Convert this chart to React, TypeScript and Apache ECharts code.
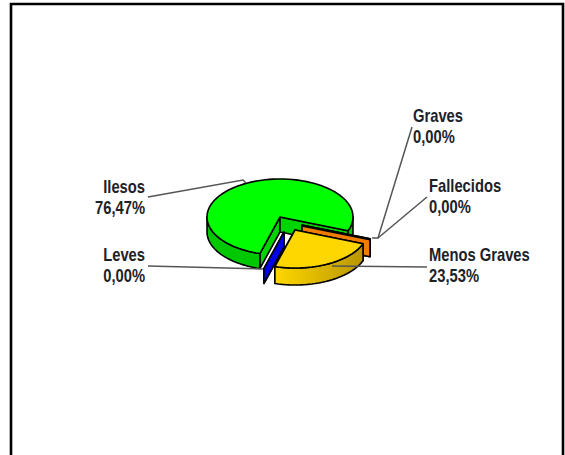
import React, { useEffect, useRef } from "react";
import * as echarts from "echarts";

const categories = ["Ilesos", "Graves", "Fallecidos", "Menos Graves", "Leves"];
const shares = [76.47, 0, 0, 23.53, 0];

const topColors = ["#00ff00", "#ff8c00", "#ff8c00", "#ffd700", "#0000e6"];
const sideColors = ["#00c800", "#e67300", "#e67300", "#c9a400", "#0000d0"];
const wallColors = ["#00d400", "#f07c00", "#f07c00", "#e0b800", "#0000e6"];
// Pie geometry, in pixels
const CX = 280, CY = 217, RX = 73, RY = 38;
const START_DEG = 106;
const depths = [15, 15, 17, 17, 15];
const explodeX = [0, 22, 22, 15, 4];
const explodeY = [0, 8, 9, 13, 15];
const labelAnchorX = [145, 413, 429, 429, 145];
const labelAnchorY = [186, 115, 185, 254, 254];
const labelAlign = ["right", "left", "left", "left", "right"];
const leaderPts = [
  [[148, 197], [243, 180], [246, 183]],
  [[412, 127], [378, 238], [372, 238]],
  [[427, 197], [378, 238]],
  [[427, 267], [332, 266]],
  [[148, 266], [263, 269]],
];

const pct = (v: number) => v.toFixed(2).replace(".", ",") + "%";
const rad = (d: number) => (d * Math.PI) / 180;

function arcPts(cx: number, cy: number, a: number, b: number) {
  const n = Math.max(1, Math.ceil(Math.abs(b - a) / 3));
  const pts: number[][] = [];
  for (let i = 0; i <= n; i++) {
    const t = rad(a + ((b - a) * i) / n);
    pts.push([cx + RX * Math.cos(t), cy + RY * Math.sin(t)]);
  }
  return pts;
}

function sweep(i: number) {
  let s = START_DEG;
  for (let k = 0; k < i; k++) s += (shares[k] / 100) * 360;
  return [s, s + (shares[i] / 100) * 360];
}

const line = { stroke: "#000", lineWidth: 1.6, lineJoin: "round" as const };

function renderSlice(params: any, api: any) {
  const i = params.dataIndex;
  const [a, b] = sweep(i);
  const cx = CX + explodeX[i], cy = CY + explodeY[i];
  const depth = depths[i];
  const children: any[] = [];
  const wall = (t: number) => {
    const o = [cx + RX * Math.cos(rad(t)), cy + RY * Math.sin(rad(t))];
    children.push({
      type: "polygon",
      shape: { points: [[cx, cy], o, [o[0], o[1] + depth], [cx, cy + depth]] },
      style: { fill: wallColors[i], ...line },
    });
  };
  wall(a);
  wall(b);
  // the outer rim is only seen on the near half of the pie
  const ranges = [[0, 180], [360, 540]];
  ranges.forEach(([lo, hi]) => {
    const s = Math.max(a, lo), e = Math.min(b, hi);
    if (e <= s) return;
    const up = arcPts(cx, cy, s, e);
    const down = up.map((p) => [p[0], p[1] + depth]).reverse();
    children.push({
      type: "polygon",
      shape: { points: up.concat(down) },
      style: {
        fill:
          i === 3
            ? new echarts.graphic.LinearGradient(0, 0, 1, 0, [
                { offset: 0, color: "#ffd700" },
                { offset: 1, color: "#b89600" },
              ])
            : sideColors[i],
        ...line,
      },
    });
  });
  if (b > a) {
    const pts = [[cx, cy]].concat(arcPts(cx, cy, a, b));
    children.push({
      type: "polygon",
      shape: { points: pts },
      style: { fill: topColors[i], ...line },
    });
  }
  api.value(0);
  return { type: "group", children };
}

function renderLabel(params: any, api: any) {
  const i = params.dataIndex;
  const font = {
    fontFamily: "'Liberation Sans', sans-serif",
    fontWeight: "bold" as const,
    fontSize: 18,
    fill: "#1c2228",
    align: labelAlign[i] as any,
    verticalAlign: "middle" as const,
  };
  return {
    type: "group",
    children: [
      {
        type: "polyline",
        shape: { points: leaderPts[i] },
        style: { stroke: "#555", lineWidth: 1.5, fill: "none" },
      },
      {
        type: "text",
        x: labelAnchorX[i],
        y: labelAnchorY[i],
        scaleX: 0.82,
        style: { ...font, text: categories[i] },
      },
      {
        type: "text",
        x: labelAnchorX[i],
        y: labelAnchorY[i] + 21,
        scaleX: 0.82,
        style: { ...font, text: pct(api.value(0)) },
      },
    ],
  };
}

export default function App() {
  const ref = useRef<HTMLDivElement>(null);
  useEffect(() => {
    const chart = echarts.init(ref.current!, undefined, { renderer: "svg" });
    chart.setOption({
      animation: false,
      backgroundColor: "#fff",
      graphic: [
        {
          type: "rect",
          silent: true,
          shape: { x: 11, y: 4, width: 552, height: 480 },
          style: { fill: "#fff", stroke: "#000", lineWidth: 2.6 },
          z: -1,
        },
      ],
      series: [
        {
          type: "custom",
          coordinateSystem: "none",
          renderItem: renderSlice,
          data: shares,
          z: 2,
          silent: true,
        },
        {
          type: "custom",
          coordinateSystem: "none",
          renderItem: renderLabel,
          data: shares,
          z: 3,
          silent: true,
        },
      ],
    });
    return () => chart.dispose();
  }, []);
  return (
    <div
      ref={ref}
      style={{ position: "fixed", left: 0, top: 0, width: 565, height: 455, overflow: "hidden" }}
    />
  );
}
